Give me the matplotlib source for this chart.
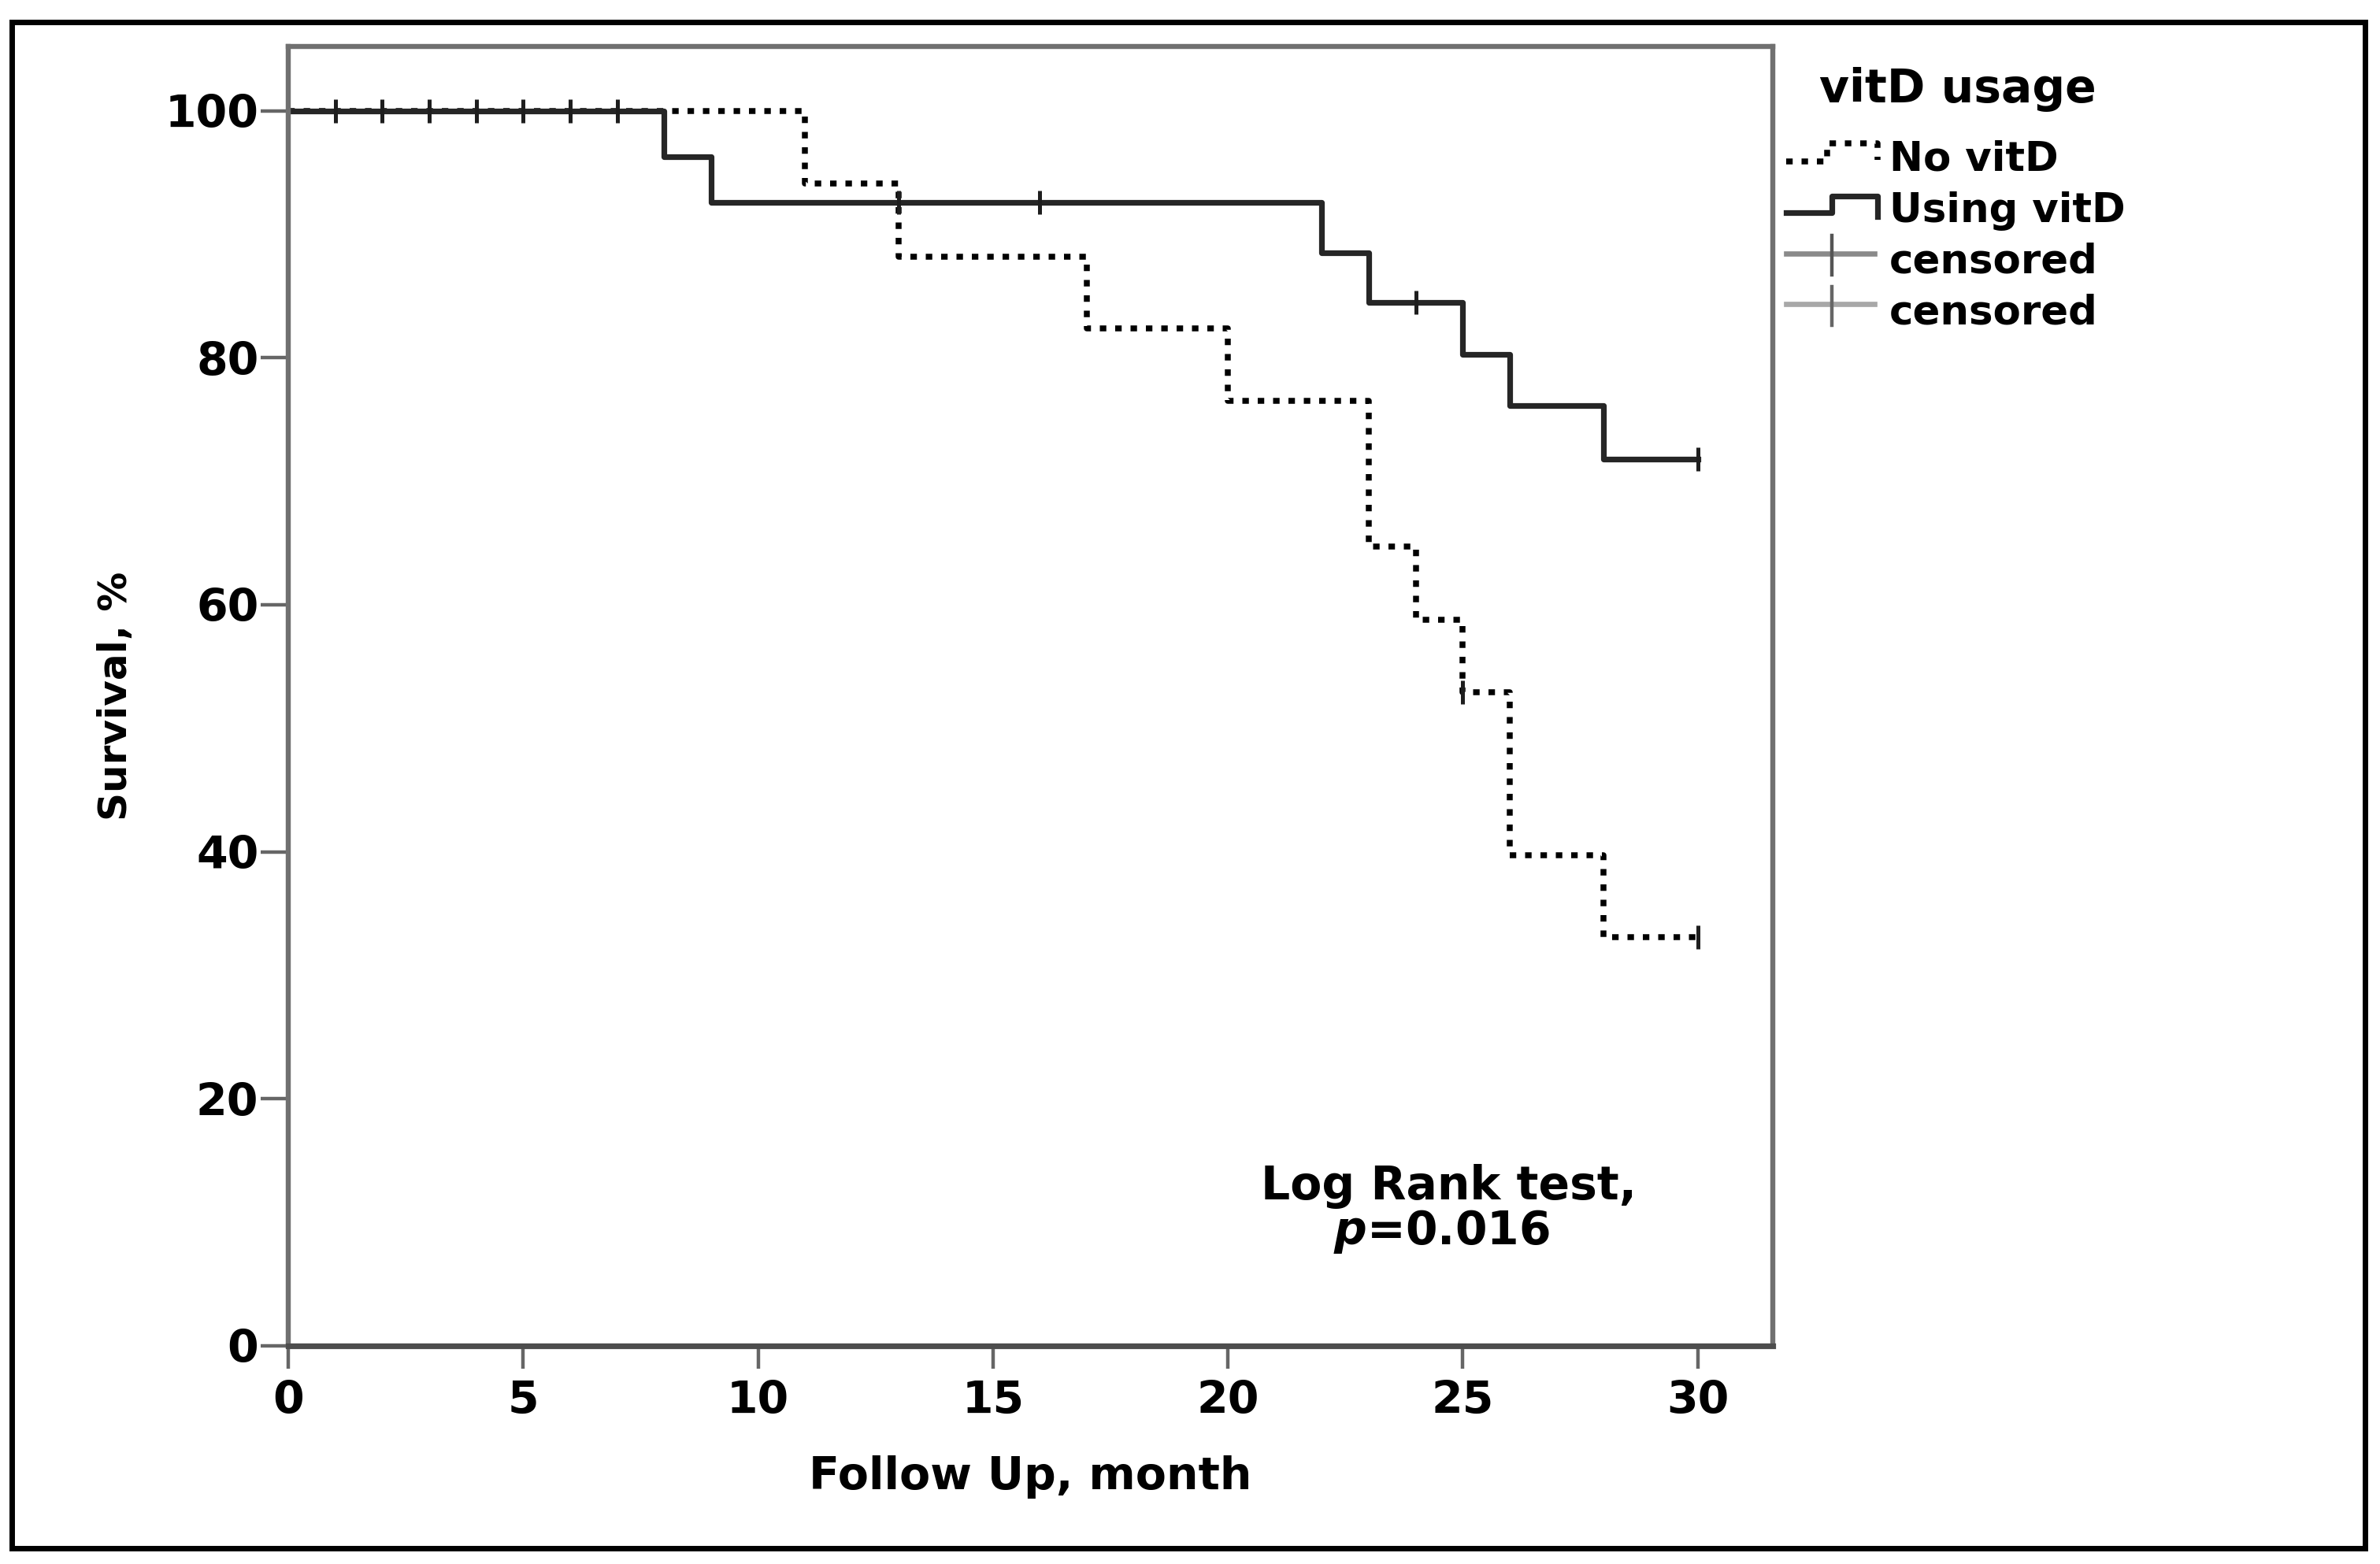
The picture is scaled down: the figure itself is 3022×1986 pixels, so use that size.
import matplotlib
matplotlib.use('Agg')
import matplotlib.pyplot as plt
from matplotlib.lines import Line2D
from matplotlib.legend_handler import HandlerBase
from matplotlib.patches import Rectangle

# Kaplan-Meier steps (month, survival %)
no_vitd_t = [0, 11, 13, 17, 20, 23, 24, 25, 26, 28, 30]
no_vitd_s = [100, 94.1, 88.2, 82.4, 76.5, 64.7, 58.8, 52.9, 39.7, 33.1, 33.1]
no_vitd_cens_t = [1, 2, 3, 4, 5, 6, 7, 25, 30]
no_vitd_cens_s = [100, 100, 100, 100, 100, 100, 100, 52.9, 33.1]

vitd_t = [0, 8, 9, 22, 23, 25, 26, 28, 30]
vitd_s = [100, 96.3, 92.6, 88.5, 84.5, 80.3, 76.1, 71.8, 71.8]
vitd_cens_t = [13, 16, 24, 30]
vitd_cens_s = [92.6, 92.6, 84.5, 71.8]

x_ticks = [0, 5, 10, 15, 20, 25, 30]
y_ticks = [0, 20, 40, 60, 80, 100]
legend_labels = ['No vitD', 'Using vitD', 'censored', 'censored']

plt.rcParams['font.family'] = ['DejaVu Sans']
plt.rcParams['font.weight'] = 'bold'
plt.rcParams['axes.labelweight'] = 'bold'
plt.rcParams['mathtext.fontset'] = 'dejavusans'


class StepHandler(HandlerBase):
    # little step drawing like the SPSS legend keys
    def __init__(self, xs, ys):
        super().__init__()
        self.xs = xs
        self.ys = ys

    def create_artists(self, legend, orig_handle, xdescent, ydescent,
                       width, height, fontsize, trans):
        x = [-xdescent + f * width for f in self.xs]
        y = [-ydescent + f * height for f in self.ys]
        ln = Line2D(x, y)
        self.update_prop(ln, orig_handle, legend)
        ln.set_drawstyle('default')
        ln.set_marker('')
        ln.set_transform(trans)
        return [ln]


class CensorHandler(HandlerBase):
    def __init__(self, line_color, tick_color):
        super().__init__()
        self.line_color = line_color
        self.tick_color = tick_color

    def create_artists(self, legend, orig_handle, xdescent, ydescent,
                       width, height, fontsize, trans):
        yc = -ydescent + 0.7 * height
        ln = Line2D([-xdescent, -xdescent + 0.97 * width], [yc, yc],
                    color=self.line_color, lw=2.4, transform=trans)
        xm = -xdescent + 0.5 * width
        tk = Line2D([xm, xm], [-ydescent - 0.05 * height, -ydescent + 1.33 * height],
                    color=self.tick_color, lw=1.6, transform=trans)
        return [ln, tk]


fig = plt.figure(figsize=(15.11, 9.93), dpi=200)
ax = fig.add_axes([0.1211, 0.1395, 0.6238, 0.8308])

ln_no, = ax.step(no_vitd_t, no_vitd_s, where='post', color='black', lw=2.7,
                 linestyle=(0, (1.1, 1.5)))
ln_vitd, = ax.step(vitd_t, vitd_s, where='post', color='#262626', lw=2.6)
c_no, = ax.plot(no_vitd_cens_t, no_vitd_cens_s, ls='none', marker='|', ms=10.8,
                mew=1.8, color='#1e1e1e', clip_on=False)
c_vitd, = ax.plot(vitd_cens_t, vitd_cens_s, ls='none', marker='|', ms=10.8,
                  mew=1.8, color='#1e1e1e', clip_on=False)

ax.set_xlim(0, 31.6)
ax.set_ylim(0, 105.2)
ax.set_xticks(x_ticks)
ax.set_yticks(y_ticks)
ax.tick_params(axis='both', direction='out', width=1.6, color='#666666',
               labelsize=20.5, labelcolor='black')
ax.tick_params(axis='x', length=10.5, pad=5)
ax.tick_params(axis='y', length=12.5, pad=1)

for s in ax.spines.values():
    s.set_color('#707070')
    s.set_linewidth(2.3)
ax.spines['bottom'].set_color('#4d4d4d')
ax.spines['bottom'].set_linewidth(2.6)

ax.set_ylabel('Survival, %', fontsize=18)
ax.yaxis.set_label_coords(-0.1034, 0.5)
ax.set_xlabel('Follow Up, month', fontsize=20.5)
ax.xaxis.set_label_coords(0.5, -0.0842)

ax.text(24.7, 11.85, 'Log Rank test,', ha='center', va='baseline', fontsize=21)
ax.text(24.55, 8.2, r'$\mathbfit{p}$=0.016', ha='center', va='baseline', fontsize=21)

fig.text(0.8226, 0.9345, 'vitD usage', ha='center', va='baseline', fontsize=21)
ax.legend(handles=[ln_no, ln_vitd, c_no, c_vitd], labels=legend_labels,
          handler_map={ln_no: StepHandler([0, 0.45, 0.45, 1.0, 1.0], [0.33, 0.33, 0.97, 0.97, 0.39]),
                       ln_vitd: StepHandler([0, 0.5, 0.5, 1.0, 1.0], [0.33, 0.33, 0.92, 0.92, 0.19]),
                       c_no: CensorHandler('#8a8a8a', '#555555'),
                       c_vitd: CensorHandler('#a8a8a8', '#666666')},
          loc='upper left', bbox_to_anchor=(0.7505, 0.9104),
          bbox_transform=fig.transFigure, frameon=False, fontsize=18.5,
          handlelength=2.25, handletextpad=0.3, labelspacing=0.29,
          borderpad=0, borderaxespad=0)

# black frame around the whole picture
fig.add_artist(Rectangle((0.00496, 0.01007), 0.98875, 0.97608,
                         transform=fig.transFigure, fill=False,
                         ec='black', lw=2.5))

fig.savefig('out.png', dpi=200)
